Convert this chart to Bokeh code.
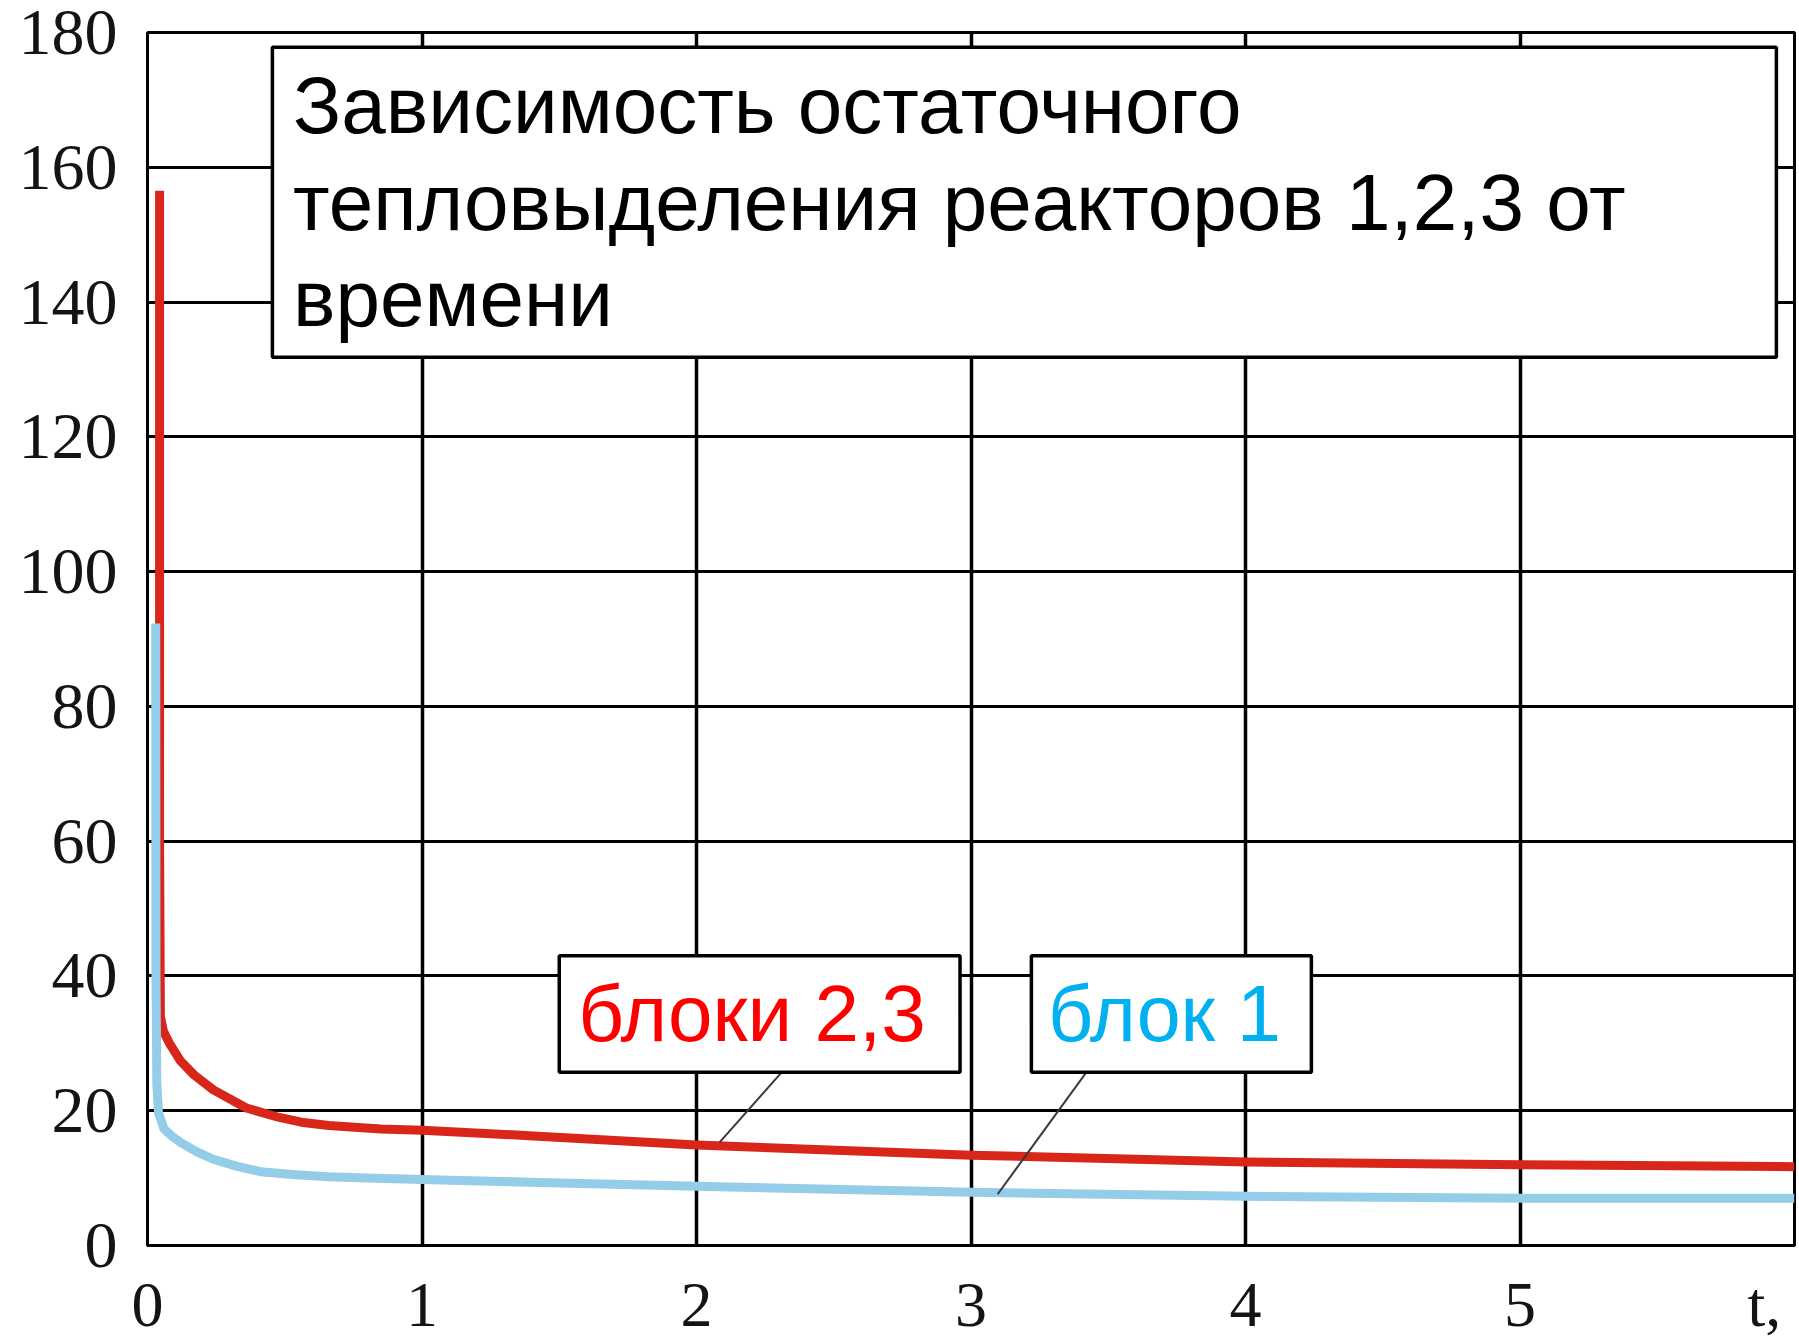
from bokeh.plotting import figure
from bokeh.models import Range1d, FixedTicker, Label, BoxAnnotation
from bokeh.embed import file_html
from bokeh.resources import INLINE

# ---- data ----
x_ticks = [0, 1, 2, 3, 4, 5]
y_ticks = [0, 20, 40, 60, 80, 100, 120, 140, 160, 180]
x_unit_pos = 5.89
x_unit_label = "t,"

red_t = [0.044, 0.044, 0.047, 0.058, 0.08, 0.12, 0.17, 0.24, 0.36, 0.48, 0.56, 0.66, 0.85, 1.0, 1.39, 2.0, 3.0, 4.0, 5.0, 6.0]
red_q = [156.5, 60.0, 34.0, 31.8, 30.0, 27.4, 25.3, 23.1, 20.4, 19.0, 18.3, 17.8, 17.3, 17.1, 16.3, 14.9, 13.4, 12.4, 12.0, 11.7]

blue_t = [0.030, 0.031, 0.034, 0.040, 0.06, 0.09, 0.12, 0.18, 0.24, 0.33, 0.42, 0.54, 0.66, 0.8, 1.0, 1.39, 2.0, 3.0, 4.0, 5.0, 6.0]
blue_q = [92.3, 40.0, 24.0, 19.7, 17.3, 16.2, 15.3, 13.9, 12.8, 11.7, 10.9, 10.5, 10.2, 10.0, 9.8, 9.4, 8.8, 7.9, 7.3, 7.0, 7.0]

title_lines = ["Зависимость остаточного", "тепловыделения реакторов 1,2,3 от", "времени"]
label_red = "блоки 2,3"
label_blue = "блок 1"

W, H = 1799, 1343
p = figure(width=W, height=H, output_backend="svg", toolbar_location=None,
           x_range=Range1d(0, 6), y_range=Range1d(0, 180),
           min_border_left=147, min_border_right=5, min_border_top=32, min_border_bottom=98)
p.background_fill_color = "white"
p.border_fill_color = "white"
p.outline_line_color = "black"
p.outline_line_width = 3

# axes
for ax in (p.xaxis[0], p.yaxis[0]):
    ax.axis_line_color = None
    ax.major_tick_line_color = None
    ax.minor_tick_line_color = None
    ax.major_tick_in = 0
    ax.major_tick_out = 0
    ax.minor_tick_in = 0
    ax.minor_tick_out = 0
    ax.major_label_text_font = "Liberation Serif"
    ax.major_label_text_color = "#141414"
p.yaxis.major_label_text_font_size = "66px"
p.xaxis.major_label_text_font_size = "64px"

p.xaxis.ticker = FixedTicker(ticks=x_ticks + [x_unit_pos])
p.xaxis.major_label_overrides = {x_unit_pos: x_unit_label}
p.yaxis.ticker = FixedTicker(ticks=y_ticks)
p.xaxis.major_label_standoff = 23
p.yaxis.major_label_standoff = 30

p.xgrid.ticker = FixedTicker(ticks=x_ticks[1:])
p.ygrid.ticker = FixedTicker(ticks=y_ticks[1:-1])
p.xgrid.grid_line_color = "black"
p.xgrid.grid_line_width = 3.5
p.ygrid.grid_line_color = "black"
p.ygrid.grid_line_width = 3

# curves
p.line(red_t, red_q, line_color="#d8261b", line_width=9, line_join="round")
p.line(blue_t, blue_q, line_color="#93cde8", line_width=9, line_join="round")

# leader lines
p.segment(x0=[2.31, 3.42], y0=[25.7, 25.7], x1=[2.084, 3.097], y1=[15.3, 7.6],
          line_color="#3a3a3a", line_width=2)

# title box
p.add_layout(BoxAnnotation(left=0.455, right=5.934, top=177.8, bottom=131.8,
                           fill_color="white", fill_alpha=1.0,
                           line_color="black", line_width=3.5, line_alpha=1.0))
for txt, yb in zip(title_lines, [169.1, 154.8, 140.5]):
    p.add_layout(Label(x=0.530, y=yb, text=txt, text_font="Liberation Sans",
                       text_font_size="80px", text_color="black", text_baseline="alphabetic"))

# series label boxes
p.add_layout(BoxAnnotation(left=1.50, right=2.96, top=43.0, bottom=25.7,
                           fill_color="white", fill_alpha=1.0,
                           line_color="black", line_width=3.5, line_alpha=1.0))
p.add_layout(BoxAnnotation(left=3.22, right=4.24, top=43.0, bottom=25.7,
                           fill_color="white", fill_alpha=1.0,
                           line_color="black", line_width=3.5, line_alpha=1.0))
p.add_layout(Label(x=2.202, y=34.5, text=label_red, text_font="Liberation Sans",
                   text_font_size="80px", text_color="#ff0000", text_align="center",
                   text_baseline="alphabetic"))
p.add_layout(Label(x=3.705, y=34.5, text=label_blue, text_font="Liberation Sans",
                   text_font_size="79px", text_color="#00b0f0", text_align="center",
                   text_baseline="alphabetic"))

open("out.html", "w").write(file_html(p, INLINE))
